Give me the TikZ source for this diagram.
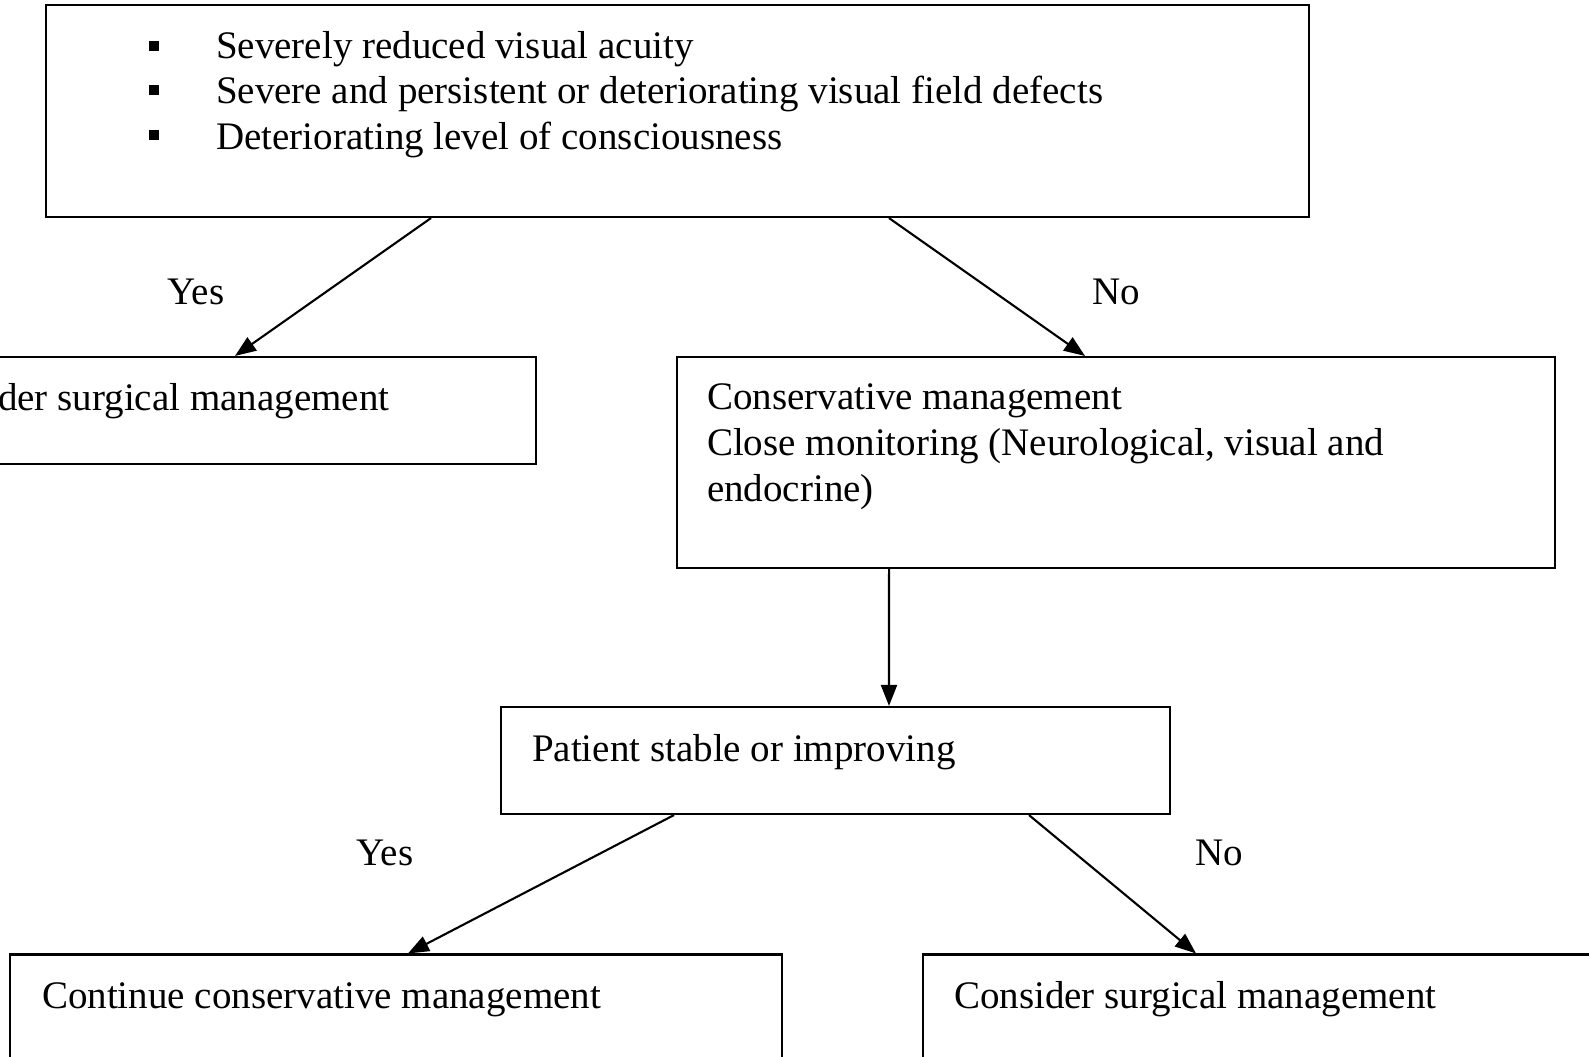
\documentclass[tikz,border=0pt]{standalone}
\usepackage{fontspec}
\setmainfont{Liberation Serif}
\usetikzlibrary{arrows.meta}
\begin{document}
\begin{tikzpicture}[x=0.02cm,y=-0.02cm,font=\fontsize{22.2}{26}\selectfont,
  >={Triangle[length=0.42cm,width=0.32cm]},line width=1.2pt,
  box/.style={draw,inner sep=0pt},
  txt/.style={anchor=base west,inner sep=0pt},
  bul/.style={fill,inner sep=0pt,minimum size=0.19cm}]
\useasboundingbox (0,0) rectangle (1589,1057);
% boxes
\node[box,minimum width=25.26cm,minimum height=4.24cm] (crit) at (677.5,111) {};
\node[box,minimum width=13.04cm,minimum height=2.14cm] (surgA) at (210,410.5) {};
\node[box,minimum width=17.56cm,minimum height=4.22cm] (cons) at (1116,462.5) {};
\node[box,minimum width=13.38cm,minimum height=2.14cm] (stable) at (835.5,760.5) {};
\node[box,minimum width=15.44cm,minimum height=4.22cm] (cont) at (396,1060) {};
\node[box,minimum width=15.44cm,minimum height=4.22cm] (surgB) at (1309,1060) {};
% texts
\node[bul] (b1) at (154,46) {};
\node[bul] (b2) at (154,90) {};
\node[bul] (b3) at (154,135) {};
\node[txt] (t1) at (215,59) {Severely reduced visual acuity};
\node[txt] (t2) at (215,104) {Severe and persistent or deteriorating visual field defects};
\node[txt] (t3) at (215,150) {Deteriorating level of consciousness};
\node[txt] (tsa) at (-94,411) {Consider surgical management};
\node[txt] (tc1) at (706,410) {Conservative management};
\node[txt] (tc2) at (706,456) {Close monitoring (Neurological, visual and};
\node[txt] (tc3) at (706,501) {endocrine)};
\node[txt] (tst) at (531,761) {Patient stable or improving};
\node[txt] (tco) at (41,1008) {Continue conservative management};
\node[txt] (tsb) at (953,1008) {Consider surgical management};
% labels
\node (yes1) at (196,292) {Yes};
\node (no1) at (1116,292) {No};
\node (yes2) at (385,853) {Yes};
\node (no2) at (1219,853) {No};
% arrows
\draw[->] ([xshift=-4.93cm]crit.south) -- ([xshift=0.5cm]surgA.north);
\draw[->] ([xshift=4.23cm]crit.south) -- ([xshift=-0.62cm]cons.north);
\draw[->] ([xshift=-4.54cm]cons.south) -- ([xshift=1.07cm]stable.north);
\draw[->] ([xshift=-3.23cm]stable.south) -- ([xshift=0.24cm]cont.north);
\draw[->] ([xshift=3.87cm]stable.south) -- ([xshift=-2.26cm]surgB.north);
\end{tikzpicture}
\end{document}
